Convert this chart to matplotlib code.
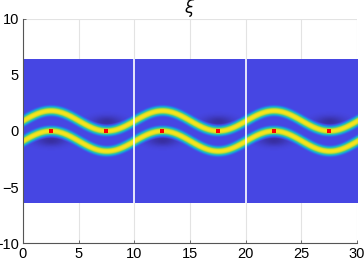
import matplotlib
matplotlib.use('Agg')
import matplotlib.pyplot as plt
import numpy as np
from matplotlib.colors import LinearSegmentedColormap

# band geometry
period = 10.0
amplitude = 0.9
band_offsets = [0.9, -0.9]
band_width = 0.38
y_half = 6.4

# red marker positions
dot_x = [2.5, 7.5, 12.5, 17.5, 22.5, 27.5]
dot_y = [0, 0, 0, 0, 0, 0]

# dark patches on the outer side of each bend
dark_x = [2.5, 7.5, 12.5, 17.5, 22.5, 27.5]
dark_y = [-0.85, 0.85, -0.85, 0.85, -0.85, 0.85]

panel_edges = [10, 20]

colors = [(0.18, 0.12, 0.45), (0.28, 0.28, 0.90), (0.10, 0.55, 0.90),
          (0.12, 0.72, 0.80), (0.25, 0.80, 0.50), (0.80, 0.85, 0.20),
          (0.98, 0.90, 0.10)]
cmap = LinearSegmentedColormap.from_list('par', list(zip([0, 0.12, 0.3, 0.45, 0.6, 0.78, 1.0], colors)))


def build_field():
    x = np.linspace(0, 30, 600)
    y = np.linspace(-y_half, y_half, 300)
    X, Y = np.meshgrid(x, y)
    k = 2 * np.pi / period
    slope = amplitude * k * np.cos(k * X)
    field = np.zeros_like(X)
    for off in band_offsets:
        yc = off + amplitude * np.sin(k * X)
        d = np.abs(Y - yc) / np.sqrt(1 + slope ** 2)
        field = np.maximum(field, np.exp(-(d / band_width) ** 2))
    base = 0.12 * np.ones_like(X)
    for dx, dy in zip(dark_x, dark_y):
        base -= 0.07 * np.exp(-((X - dx) / 1.3) ** 2 - ((Y - dy) / 0.5) ** 2)
    return np.maximum(base, field)


fig = plt.figure(figsize=(3.64, 2.62), dpi=100)
ax = fig.add_axes([0.063, 0.0725, 0.918, 0.855])
plt.rcParams['font.family'] = ['Liberation Sans', 'DejaVu Sans']

ax.imshow(build_field(), extent=[0, 30, -y_half, y_half], origin='lower',
          cmap=cmap, vmin=0, vmax=1, aspect='auto', interpolation='bilinear', zorder=1)
ax.vlines(panel_edges, -y_half, y_half, color='white', lw=1.2, zorder=2)
ax.plot(dot_x, dot_y, 's', color='red', markersize=3, markeredgewidth=0, zorder=3)

ax.set_xlim(0, 30)
ax.set_ylim(-10, 10)
ax.set_xticks([0, 5, 10, 15, 20, 25, 30])
ax.set_yticks([-10, -5, 0, 5, 10])
ax.grid(True, color='#e3e3e3', lw=0.8, zorder=0)
ax.set_axisbelow(True)
for s in ['top', 'right']:
    ax.spines[s].set_visible(False)
for s in ['left', 'bottom']:
    ax.spines[s].set_color('#555555')
    ax.spines[s].set_linewidth(0.8)
ax.tick_params(direction='in', length=2, width=0.6, color='#555555', labelsize=10.5, pad=3)
for lab in ax.get_xticklabels() + ax.get_yticklabels():
    lab.set_family('Liberation Sans')
ax.set_title(r'$\xi$', fontsize=12, pad=2)

fig.savefig('out.png', dpi=100)
